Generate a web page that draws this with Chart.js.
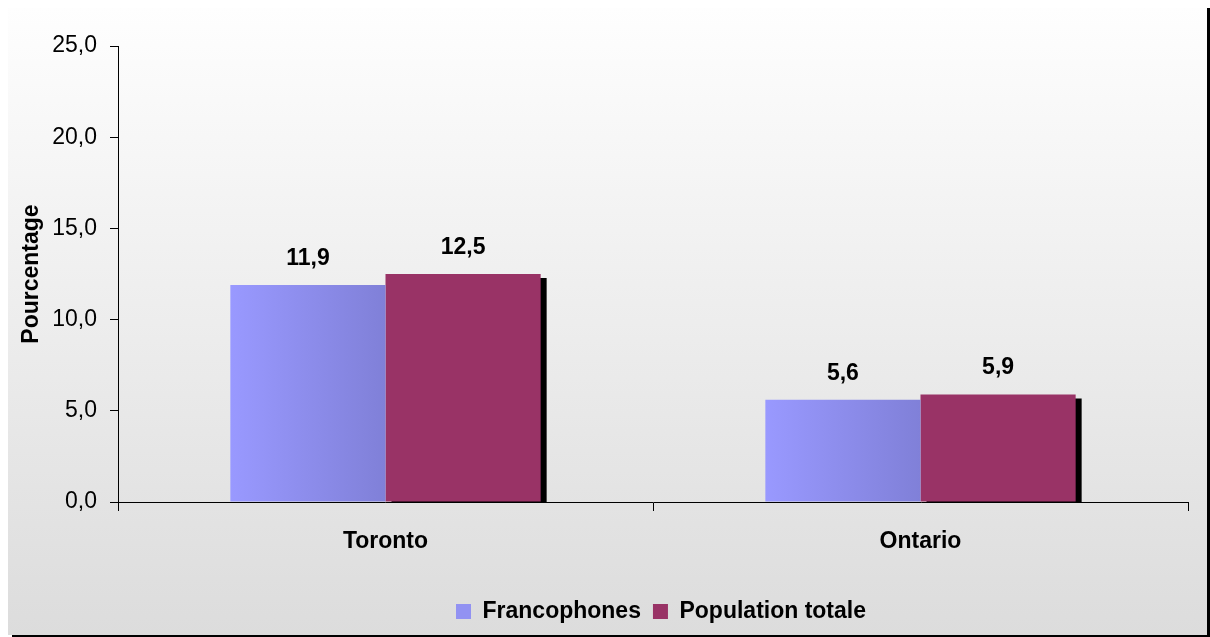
<!DOCTYPE html>
<html>
<head>
<meta charset="utf-8">
<title>Pourcentage – Toronto et Ontario</title>
<script src="https://cdn.jsdelivr.net/npm/chart.js@4.4.1/dist/chart.umd.min.js"></script>
<style>
  html, body { margin: 0; padding: 0; background: #fff; }
  canvas { display: block; }
</style>
</head>
<body>
<canvas id="chart" width="1210" height="637"></canvas>
<script>
// data
const regions = ['Toronto', 'Ontario'];
const seriesNames = ['Francophones', 'Population totale'];
const francophones = [11.9, 5.6];
const populationTotale = [12.5, 5.9];
const yTicks = [0, 5, 10, 15, 20, 25];

const FONT = '"Liberation Sans", Arial, Helvetica, sans-serif';
const GROUP_PCT = 0.58;
const fmt = v => v.toFixed(1).replace('.', ',');

Chart.defaults.font.family = FONT;
Chart.defaults.color = '#000';

// grey gradient panel with a black drop shadow behind the whole chart
const framePlugin = {
  id: 'frame',
  beforeDraw(chart) {
    const { ctx, width, height } = chart;
    ctx.save();
    ctx.fillStyle = '#fff';
    ctx.fillRect(0, 0, width, height);
    ctx.fillStyle = '#000';
    ctx.fillRect(12, 8, 1198, 629);
    const g = ctx.createLinearGradient(0, 8, 0, 635);
    g.addColorStop(0, '#fefefe');
    g.addColorStop(1, '#dcdcdc');
    ctx.fillStyle = g;
    ctx.fillRect(8, 8, 1199, 627);
    ctx.restore();
  }
};

// nudge the legend row a little to the right
const legendShift = {
  id: 'legendShift',
  afterLayout(chart) {
    if (!chart.legend) return;
    chart.legend.left += 8;
    chart.legend.right += 8;
  }
};

// hard black shadow to the right of the second series
const shadowPlugin = {
  id: 'barShadow',
  beforeDatasetDraw(chart, args) {
    if (args.index !== 1) return;
    const ctx = chart.ctx;
    ctx.save();
    ctx.shadowColor = '#000';
    ctx.shadowOffsetX = 6;
    ctx.shadowOffsetY = 4;
    ctx.shadowBlur = 0;
  },
  afterDatasetDraw(chart, args) {
    if (args.index !== 1) return;
    chart.ctx.restore();
  }
};

// value above every bar
const valueLabels = {
  id: 'valueLabels',
  afterDatasetsDraw(chart) {
    const ctx = chart.ctx;
    ctx.save();
    ctx.font = 'bold 23px ' + FONT;
    ctx.fillStyle = '#000';
    ctx.textAlign = 'center';
    ctx.textBaseline = 'alphabetic';
    chart.data.datasets.forEach((ds, i) => {
      chart.getDatasetMeta(i).data.forEach((bar, j) => {
        ctx.fillText(fmt(ds.data[j]), bar.x, bar.y - 20);
      });
    });
    ctx.restore();
  }
};

// left-to-right shading of the Francophones bars
function francoFill(c) {
  const chart = c.chart;
  if (!chart.chartArea || c.dataIndex === undefined) return '#9090ee';
  const x = chart.scales.x;
  const centre = x.getPixelForValue(c.dataIndex);
  const group = (x.width / regions.length) * GROUP_PCT;
  const g = chart.ctx.createLinearGradient(centre - group / 2, 0, centre, 0);
  g.addColorStop(0, '#9999ff');
  g.addColorStop(1, '#8080d8');
  return g;
}

const swatches = ['#9292f2', '#993366'];

new Chart(document.getElementById('chart'), {
  type: 'bar',
  data: {
    labels: regions,
    datasets: [
      { label: seriesNames[0], data: francophones, backgroundColor: francoFill },
      { label: seriesNames[1], data: populationTotale, backgroundColor: '#993366' }
    ]
  },
  options: {
    responsive: false,
    animation: false,
    events: [],
    layout: { padding: { left: 8, right: 22, top: 46, bottom: 4 } },
    datasets: {
      bar: { barPercentage: 1, categoryPercentage: GROUP_PCT, borderWidth: 0 }
    },
    scales: {
      x: {
        grid: { drawOnChartArea: false, drawTicks: true, tickLength: 9, color: '#000', offset: true },
        border: { color: '#000', width: 1 },
        ticks: { font: { size: 23, weight: 'bold' }, color: '#000', padding: 17 },
        afterFit(scale) { scale.height = 86; }
      },
      y: {
        min: 0,
        max: 25,
        afterBuildTicks(scale) { scale.ticks = yTicks.map(v => ({ value: v })); },
        ticks: { callback: v => fmt(v), font: { size: 23 }, color: '#000', padding: 13 },
        grid: { drawOnChartArea: false, drawTicks: true, tickLength: 8, color: '#000' },
        border: { color: '#000', width: 1 },
        title: {
          display: true,
          text: 'Pourcentage',
          font: { size: 23, weight: 'bold' },
          color: '#000',
          padding: { top: 10, bottom: 0 }
        },
        afterFit(scale) { scale.width = 110; }
      }
    },
    plugins: {
      legend: {
        position: 'bottom',
        fullSize: false,
        labels: {
          boxWidth: 15,
          boxHeight: 15,
          padding: 12,
          color: '#000',
          font: { size: 23, weight: 'bold' },
          generateLabels: chart => chart.data.datasets.map((ds, i) => ({
            text: ds.label,
            fillStyle: swatches[i],
            strokeStyle: swatches[i],
            lineWidth: 0,
            hidden: false,
            datasetIndex: i
          }))
        }
      },
      tooltip: { enabled: false }
    }
  },
  plugins: [framePlugin, legendShift, shadowPlugin, valueLabels]
});
</script>
</body>
</html>
